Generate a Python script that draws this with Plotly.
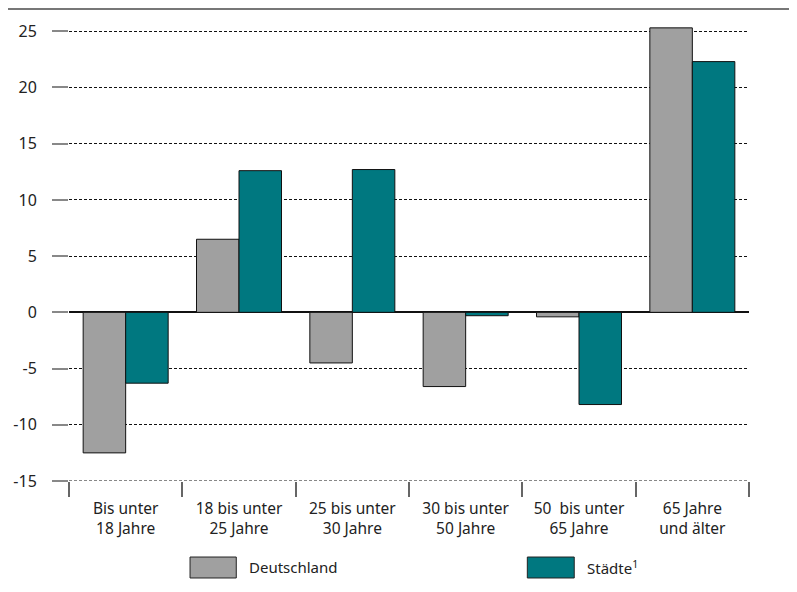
import plotly.graph_objects as go

categories = ["Bis unter<br>18 Jahre", "18 bis unter<br>25 Jahre", "25 bis unter<br>30 Jahre",
              "30 bis unter<br>50 Jahre", "50  bis unter<br>65 Jahre", "65 Jahre<br>und älter"]
deutschland = [-12.5, 6.5, -4.5, -6.6, -0.4, 25.3]
staedte = [-6.3, 12.6, 12.7, -0.3, -8.2, 22.3]
series_names = ["Deutschland", "Städte<sup>1</sup>"]
tick_vals = [-15, -10, -5, 0, 5, 10, 15, 20, 25]
tick_text = ["-15", "-10", "-5", "0", "5", "10", "15", "20", "25"]

GRAY = "#A0A0A0"
TEAL = "#007880"
FONT = "Noto Sans"

fig = go.Figure()
fig.add_trace(go.Bar(x=categories, y=deutschland, name=series_names[0],
                     marker=dict(color=GRAY, line=dict(color="#111", width=1))))
fig.add_trace(go.Bar(x=categories, y=staedte, name=series_names[1],
                     marker=dict(color=TEAL, line=dict(color="#111", width=1))))

fig.update_layout(
    width=789, height=584,
    margin=dict(l=61, r=48, t=12, b=111),
    paper_bgcolor="white", plot_bgcolor="white",
    barmode="group", bargap=0.25, bargroupgap=0,
    showlegend=False,
    font=dict(family=FONT, size=15, color="#222"),
)
fig.update_yaxes(
    range=[-15, 26], tickvals=tick_vals, ticktext=tick_text,
    showgrid=True, gridcolor="#111", gridwidth=1, griddash="3px,2px",
    zeroline=True, zerolinecolor="#111", zerolinewidth=2,
    ticks="outside", ticklen=16, tickcolor="#888", tickwidth=2,
    ticklabelstandoff=12, automargin=False,
    tickfont=dict(family=FONT, size=16, color="#222"),
    showline=False,
)
fig.update_xaxes(
    range=[-0.5, 5.5], tickson="boundaries",
    ticks="outside", ticklen=15, tickcolor="#666", tickwidth=1.5,
    ticklabelstandoff=16, automargin=False,
    showgrid=False, showline=False,
    tickfont=dict(family=FONT, size=15.5, color="#222"),
)

# bottom dotted rule at the lowest tick
fig.add_shape(type="line", xref="paper", yref="y",
              x0=0, x1=1, y0=tick_vals[0], y1=tick_vals[0],
              line=dict(color="#111", width=1, dash="3px,2px"))

# top rule
fig.add_shape(type="line", xref="paper", yref="paper",
              x0=-0.0897, x1=1.07, y0=1.0239, y1=1.0239,
              line=dict(color="#777", width=2))

# manual legend
leg = [(GRAY, series_names[0], 0.178, 0.246), (TEAL, series_names[1], 0.674, 0.743)]
for color, name, x0, x1 in leg:
    fig.add_shape(type="rect", xref="paper", yref="paper",
                  x0=x0, x1=x1, y0=-0.2104, y1=-0.1649,
                  fillcolor=color, line=dict(color="#222", width=1))
    fig.add_annotation(xref="paper", yref="paper", x=x1 + 0.016, y=-0.1876,
                       text=name, showarrow=False, xanchor="left", yanchor="middle",
                       font=dict(family=FONT, size=15, color="#222"))

fig.write_html("out.html")
